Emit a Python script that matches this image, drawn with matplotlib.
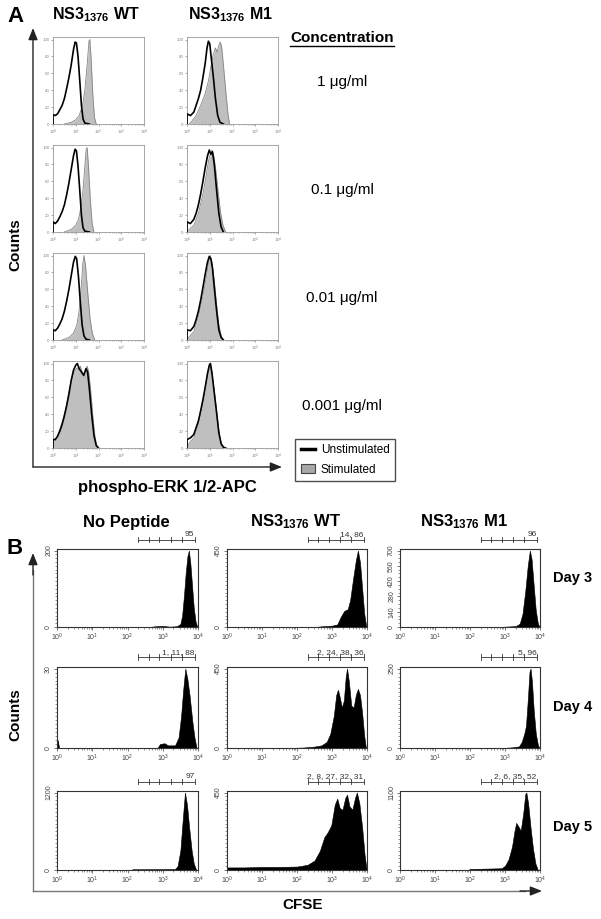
import matplotlib
matplotlib.use("Agg")
import matplotlib.pyplot as plt
import numpy as np
from matplotlib.ticker import MultipleLocator, LogLocator, NullFormatter, LogFormatterMathtext
from matplotlib.lines import Line2D
from matplotlib.patches import Patch

plt.rcParams['font.family'] = ['Liberation Sans', 'DejaVu Sans']
plt.rcParams['mathtext.fontset'] = 'custom'
plt.rcParams['mathtext.rm'] = 'Liberation Sans'
plt.rcParams['mathtext.bf'] = 'Liberation Sans:bold'
plt.rcParams['mathtext.it'] = 'Liberation Sans:italic'

W, H = 601, 919
fig = plt.figure(figsize=(W / 100, H / 100), dpi=100)


def px_axes(l, t, r, b, **kw):
    return fig.add_axes([l / W, 1 - b / H, (r - l) / W, (b - t) / H], **kw)


# ---------------- data: panel A (x in log10 units, y in % of max) ----------------
A_col_titles = [r"NS3$_{\mathbf{1376}}$ WT", r"NS3$_{\mathbf{1376}}$ M1"]
A_conc = ["1 μg/ml", "0.1 μg/ml", "0.01 μg/ml", "0.001 μg/ml"]
A_yticks = [0, 20, 40, 60, 80, 100]

A_wt_unstim = [
    [(0, 0), (0, 11), (0.1, 10), (0.2, 12), (0.3, 17), (0.4, 22), (0.5, 30), (0.6, 42), (0.7, 55), (0.8, 70),
     (0.9, 88), (0.97, 97), (1.03, 96), (1.1, 80), (1.18, 50), (1.25, 22), (1.32, 6), (1.4, 1), (1.6, 0)],
    [(0, 0), (0, 12), (0.1, 10), (0.2, 13), (0.3, 18), (0.4, 24), (0.5, 32), (0.6, 44), (0.7, 58), (0.8, 74),
     (0.9, 90), (0.97, 98), (1.03, 96), (1.1, 78), (1.18, 48), (1.25, 20), (1.32, 5), (1.4, 1), (1.6, 0)],
    [(0, 0), (0, 12), (0.1, 11), (0.2, 14), (0.3, 19), (0.4, 25), (0.5, 34), (0.6, 46), (0.7, 60), (0.8, 76),
     (0.9, 92), (0.98, 99), (1.04, 96), (1.12, 75), (1.2, 45), (1.28, 18), (1.36, 5), (1.45, 1), (1.6, 0)],
    [(0, 0), (0, 10), (0.1, 10), (0.2, 14), (0.3, 20), (0.4, 28), (0.5, 38), (0.6, 50), (0.7, 64), (0.8, 80),
     (0.9, 92), (1.0, 98), (1.07, 100), (1.15, 94), (1.25, 90), (1.35, 86), (1.45, 94), (1.52, 90), (1.6, 70),
     (1.7, 40), (1.8, 15), (1.9, 3), (2.0, 0)],
]
A_wt_stim = [
    [(0.5, 0), (0.8, 2), (1.0, 5), (1.15, 10), (1.3, 22), (1.4, 40), (1.5, 70), (1.58, 98), (1.62, 100),
     (1.68, 75), (1.75, 35), (1.82, 8), (1.9, 0)],
    [(0.5, 0), (0.8, 3), (1.0, 8), (1.12, 15), (1.22, 28), (1.32, 50), (1.4, 78), (1.46, 98), (1.5, 100),
     (1.56, 78), (1.64, 38), (1.72, 10), (1.8, 0)],
    [(0.4, 0), (0.7, 3), (0.9, 8), (1.05, 18), (1.15, 35), (1.24, 62), (1.31, 90), (1.36, 100), (1.43, 88),
     (1.53, 55), (1.63, 25), (1.73, 8), (1.83, 0)],
    [(0, 0), (0, 8), (0.1, 9), (0.2, 14), (0.3, 22), (0.4, 30), (0.5, 40), (0.6, 52), (0.7, 66), (0.8, 80),
     (0.9, 88), (1.0, 93), (1.07, 95), (1.15, 92), (1.2, 97), (1.28, 90), (1.36, 85), (1.43, 92), (1.5, 97),
     (1.57, 90), (1.65, 70), (1.75, 38), (1.85, 12), (1.95, 0)],
]
A_m1_unstim = [
    [(0, 0), (0, 12), (0.15, 10), (0.3, 14), (0.4, 22), (0.5, 30), (0.6, 40), (0.7, 55), (0.8, 72),
     (0.88, 90), (0.94, 98), (1.0, 95), (1.08, 75), (1.16, 55), (1.25, 30), (1.35, 10), (1.45, 2), (1.6, 0)],
    [(0, 0), (0, 12), (0.15, 10), (0.3, 15), (0.4, 22), (0.5, 32), (0.6, 45), (0.7, 60), (0.8, 76),
     (0.9, 90), (0.98, 97), (1.05, 92), (1.12, 95), (1.2, 80), (1.3, 50), (1.4, 22), (1.5, 6), (1.6, 0)],
    [(0, 0), (0, 12), (0.15, 11), (0.3, 16), (0.4, 24), (0.5, 34), (0.6, 47), (0.7, 62), (0.8, 78),
     (0.9, 92), (0.98, 99), (1.05, 96), (1.12, 85), (1.2, 62), (1.3, 35), (1.4, 12), (1.5, 3), (1.6, 0)],
    [(0, 0), (0, 10), (0.15, 12), (0.3, 16), (0.4, 24), (0.5, 32), (0.6, 44), (0.7, 57), (0.8, 72),
     (0.9, 88), (0.98, 98), (1.03, 100), (1.1, 88), (1.2, 65), (1.3, 42), (1.4, 18), (1.5, 5), (1.6, 1), (1.7, 0)],
]
A_m1_stim = [
    [(0.1, 0), (0.2, 3), (0.4, 10), (0.6, 22), (0.8, 36), (0.95, 52), (1.05, 68), (1.15, 82), (1.25, 90),
     (1.32, 85), (1.4, 93), (1.46, 97), (1.52, 92), (1.6, 70), (1.7, 40), (1.8, 12), (1.87, 0)],
    [(0, 0), (0.1, 3), (0.3, 8), (0.5, 22), (0.7, 45), (0.85, 68), (0.95, 85), (1.02, 92), (1.1, 97),
     (1.18, 90), (1.28, 70), (1.38, 45), (1.48, 22), (1.58, 8), (1.7, 0)],
    [(0, 0), (0.1, 4), (0.3, 10), (0.5, 28), (0.7, 52), (0.85, 75), (0.95, 92), (1.02, 100), (1.1, 92),
     (1.2, 70), (1.3, 42), (1.4, 18), (1.5, 5), (1.6, 0)],
    [(0, 0), (0.1, 6), (0.3, 12), (0.5, 28), (0.7, 54), (0.85, 78), (0.95, 95), (1.02, 100), (1.1, 90),
     (1.2, 68), (1.3, 44), (1.4, 20), (1.5, 6), (1.62, 0)],
]

# ---------------- data: panel B (x in log10 units, y in counts) ----------------
B_col_titles = ["No Peptide", r"NS3$_{\mathbf{1376}}$ WT", r"NS3$_{\mathbf{1376}}$ M1"]
B_days = ["Day 3", "Day 4", "Day 5"]
B_ymax = [[200, 450, 700], [30, 450, 250], [1200, 450, 1100]]
B_gate_edges = [2.3, 2.6, 2.9, 3.22, 3.55, 3.92]
B_gate_labels = [["95", "14, 86", "96"],
                 ["1, 11, 88", "2, 24, 38, 36", "5, 96"],
                 ["97", "2, 8, 27, 32, 31", "2, 6, 35, 52"]]

B_hist = [
    [
        [(0, 0), (2.6, 0), (2.8, 2), (3.0, 3), (3.2, 1), (3.4, 2), (3.5, 8), (3.55, 30), (3.6, 80), (3.65, 140),
         (3.7, 185), (3.74, 200), (3.78, 170), (3.83, 110), (3.88, 50), (3.93, 15), (3.98, 0)],
        [(0, 0), (2.5, 0), (2.75, 5), (3.0, 8), (3.15, 15), (3.25, 60), (3.35, 95), (3.45, 105), (3.52, 160),
         (3.6, 280), (3.68, 390), (3.74, 450), (3.8, 380), (3.86, 230), (3.92, 80), (3.98, 0)],
        [(0, 0), (2.8, 0), (3.0, 3), (3.3, 8), (3.42, 30), (3.5, 120), (3.58, 330), (3.65, 560), (3.71, 700),
         (3.76, 620), (3.82, 380), (3.88, 150), (3.94, 30), (3.99, 0)],
    ],
    [
        [(0, 0), (0.02, 3), (0.06, 0), (2.85, 0), (2.92, 1.5), (3.05, 1.8), (3.15, 1), (3.35, 1), (3.45, 4),
         (3.52, 12), (3.58, 22), (3.64, 30), (3.7, 26), (3.76, 20), (3.84, 10), (3.9, 4), (3.96, 0)],
        [(0, 0), (1.8, 0), (2.2, 3), (2.5, 8), (2.7, 15), (2.85, 35), (2.95, 80), (3.05, 180), (3.12, 300),
         (3.17, 330), (3.22, 290), (3.28, 230), (3.34, 270), (3.39, 400), (3.43, 450), (3.48, 380), (3.55, 240),
         (3.62, 230), (3.68, 300), (3.74, 335), (3.8, 300), (3.86, 200), (3.92, 70), (3.97, 0)],
        [(0, 0), (2.9, 0), (3.2, 2), (3.4, 5), (3.48, 20), (3.55, 45), (3.6, 70), (3.65, 150), (3.7, 240),
         (3.73, 250), (3.77, 210), (3.82, 120), (3.88, 45), (3.94, 10), (3.98, 0)],
    ],
    [
        [(0, 0), (2.1, 0), (2.15, 12), (2.5, 12), (3.0, 14), (3.35, 15), (3.42, 60), (3.5, 300), (3.57, 800),
         (3.63, 1200), (3.69, 1000), (3.75, 650), (3.82, 300), (3.88, 100), (3.95, 0)],
        [(0, 0), (0, 15), (0.5, 15), (1.0, 18), (1.5, 18), (2.0, 20), (2.3, 30), (2.5, 55), (2.65, 110),
         (2.78, 190), (2.88, 220), (2.98, 260), (3.08, 380), (3.15, 415), (3.22, 360), (3.3, 350), (3.38, 420),
         (3.43, 438), (3.5, 370), (3.58, 350), (3.66, 420), (3.71, 450), (3.78, 390), (3.86, 250), (3.93, 90),
         (3.99, 0)],
        [(0, 0), (1.95, 0), (2.0, 15), (2.5, 20), (2.9, 25), (3.0, 60), (3.1, 150), (3.2, 330), (3.27, 550),
         (3.32, 670), (3.38, 620), (3.45, 560), (3.52, 800), (3.58, 1080), (3.61, 1100), (3.66, 950),
         (3.73, 600), (3.8, 300), (3.87, 90), (3.94, 0)],
    ],
]

# ---------------- layout ----------------
A_cols = [(53, 144), (187, 278)]
A_rows = [(37, 124), (145, 232), (253, 340), (361, 448)]
B_cols = [(57, 198), (227, 367), (400, 540)]
B_rows = [(549, 627), (667, 748), (791, 870)]

STIM_FACE = '#bfbfbf'
STIM_EDGE = '#858585'

# overlay for frames / arrows / text in pixel coords
ov = fig.add_axes([0, 0, 1, 1], zorder=0)
ov.set_xlim(0, W)
ov.set_ylim(H, 0)
ov.axis('off')


def log_axis_common(ax, color, lab_size, maj_len, min_len):
    ax.set_xscale('log')
    ax.set_xlim(1, 1e4)
    ax.xaxis.set_major_locator(LogLocator(base=10, numticks=10))
    ax.xaxis.set_minor_locator(LogLocator(base=10, subs=np.arange(2, 10), numticks=20))
    ax.xaxis.set_minor_formatter(NullFormatter())
    ax.xaxis.set_major_formatter(LogFormatterMathtext())
    ax.tick_params(axis='both', which='major', length=maj_len, width=0.5, labelsize=lab_size,
                   colors=color, pad=1)
    ax.tick_params(axis='both', which='minor', length=min_len, width=0.4, colors=color)


# ---- Panel A ----
A_data = [(A_wt_unstim, A_wt_stim), (A_m1_unstim, A_m1_stim)]
for ci, (l, r) in enumerate(A_cols):
    unst, stim = A_data[ci]
    for ri, (t, b) in enumerate(A_rows):
        ax = px_axes(l, t, r, b, zorder=2)
        s = np.array(stim[ri], dtype=float)
        u = np.array(unst[ri], dtype=float)
        ax.fill_between(10 ** s[:, 0], s[:, 1], color=STIM_FACE, lw=0, zorder=2)
        ax.plot(10 ** s[:, 0], s[:, 1], color=STIM_EDGE, lw=0.6, zorder=3)
        ax.plot(10 ** u[:, 0], u[:, 1], color='black', lw=1.2, zorder=4)
        log_axis_common(ax, '#888888', 3.2, 1.5, 0.8)
        ax.set_ylim(0, 103)
        ax.set_yticks(A_yticks)
        for sp in ax.spines.values():
            sp.set_color('#999999')
            sp.set_linewidth(0.6)

fig.text(15 / W, 1 - 17 / H, "A", fontsize=16, fontweight='bold', ha='center', va='center')
for ci, title in enumerate(A_col_titles):
    cx = [96, 230][ci]
    fig.text(cx / W, 1 - 15 / H, title, fontsize=11.5, fontweight='bold', ha='center', va='center')
fig.text(342 / W, 1 - 38 / H, "Concentration", fontsize=11, fontweight='bold', ha='center', va='center')
ov.plot([290, 394], [46, 46], color='black', lw=1.0)
for ri, lab in enumerate(A_conc):
    fig.text(342 / W, 1 - (82 + 108 * ri) / H, lab, fontsize=11, ha='center', va='center')

ov.annotate('', xy=(33, 28), xytext=(33, 467),
            arrowprops=dict(arrowstyle='-|>,head_length=0.7,head_width=0.28', lw=1.0, color='#222222',
                            shrinkA=0, shrinkB=0))
ov.annotate('', xy=(282, 467), xytext=(33, 467),
            arrowprops=dict(arrowstyle='-|>,head_length=0.7,head_width=0.28', lw=1.0, color='#222222',
                            shrinkA=0, shrinkB=0))
fig.text(15 / W, 1 - 245 / H, "Counts", fontsize=11, fontweight='bold', rotation=90, ha='center', va='center')
fig.text(167 / W, 1 - 488 / H, "phospho-ERK 1/2-APC", fontsize=12, fontweight='bold', ha='center',
         va='center')

handles = [Line2D([0], [0], color='black', lw=2.5),
           Patch(facecolor='#a8a8a8', edgecolor='#444444', lw=0.8)]
leg = fig.legend(handles=handles, labels=["Unstimulated", "Stimulated"], loc='center',
                 bbox_to_anchor=(345 / W, 1 - 460 / H), fontsize=8.5, frameon=True, fancybox=False,
                 edgecolor='#222222', handlelength=1.2, handleheight=0.9, handletextpad=0.5,
                 borderpad=0.5, labelspacing=0.6)
leg.get_frame().set_linewidth(1.0)

# ---- Panel B ----
fig.text(15 / W, 1 - 548 / H, "B", fontsize=16, fontweight='bold', ha='center', va='center')
for ci, title in enumerate(B_col_titles):
    cx = [126, 296, 464][ci]
    fig.text(cx / W, 1 - 522 / H, title, fontsize=12, fontweight='bold', ha='center', va='center')
for ri, day in enumerate(B_days):
    cy = [578, 707, 827][ri]
    fig.text(553 / W, 1 - cy / H, day, fontsize=10.5, fontweight='bold', ha='left', va='center')

for ri, (t, b) in enumerate(B_rows):
    for ci, (l, r) in enumerate(B_cols):
        ax = px_axes(l, t, r, b, zorder=2)
        d = np.array(B_hist[ri][ci], dtype=float)
        ax.fill_between(10 ** d[:, 0], d[:, 1], color='black', lw=0.4, edgecolor='black')
        log_axis_common(ax, '#444444', 5, 2.5, 1.5)
        ymax = B_ymax[ri][ci]
        ax.set_ylim(0, ymax * 1.02)
        if ri == 0 and ci == 2:
            ax.set_yticks(np.arange(0, ymax + 1, 140))
        else:
            ax.set_yticks([0, ymax])
        ax.yaxis.set_minor_locator(MultipleLocator(ymax / 20))
        for lab in ax.get_yticklabels():
            lab.set_rotation(90)
            lab.set_va('center')
        for sp in ax.spines.values():
            sp.set_color('#333333')
            sp.set_linewidth(0.8)
        # gate bar
        tr = ax.get_xaxis_transform()
        yb = 1.12
        ax.plot([10 ** B_gate_edges[0], 10 ** B_gate_edges[-1]], [yb, yb], color='#333333', lw=0.6,
                transform=tr, clip_on=False)
        for e in B_gate_edges:
            ax.plot([10 ** e, 10 ** e], [yb - 0.035, yb + 0.035], color='#333333', lw=0.6,
                    transform=tr, clip_on=False)
        ax.text(10 ** (B_gate_edges[-1] - 0.02), yb + 0.02, B_gate_labels[ri][ci], transform=tr,
                fontsize=6, color='#333333', ha='right', va='bottom')

ov.plot([33, 33], [891, 570], color='#777777', lw=1.0)
ov.annotate('', xy=(33, 553), xytext=(33, 575),
            arrowprops=dict(arrowstyle='-|>,head_length=0.7,head_width=0.28', lw=1.0, color='#222222',
                            shrinkA=0, shrinkB=0))
ov.plot([33, 525], [891, 891], color='#777777', lw=1.0)
ov.annotate('', xy=(542, 891), xytext=(520, 891),
            arrowprops=dict(arrowstyle='-|>,head_length=0.7,head_width=0.28', lw=1.0, color='#222222',
                            shrinkA=0, shrinkB=0))
fig.text(15 / W, 1 - 715 / H, "Counts", fontsize=11, fontweight='bold', rotation=90, ha='center', va='center')
fig.text(303 / W, 1 - 905 / H, "CFSE", fontsize=11, fontweight='bold', ha='center', va='center')

fig.savefig("out.png", dpi=100)
